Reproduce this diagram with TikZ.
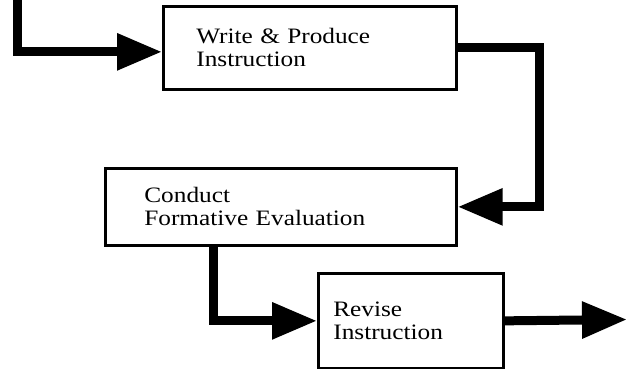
\documentclass[tikz,border=0pt]{standalone}
\usepackage{fontspec}
\setmainfont{Liberation Serif}[FakeStretch=1.15]
\usetikzlibrary{arrows.meta}
\begin{document}
\begin{tikzpicture}[x=1pt,y=-1pt,
  box/.style={draw,line width=2.7pt,anchor=north west,align=left,
    font=\fontsize{22}{23}\selectfont,inner ysep=0pt},
  flow/.style={line width=9pt,-{Triangle[length=45pt,width=35pt]}}]
\useasboundingbox (0,0) rectangle (627,369);
\node[box,minimum width=293pt,minimum height=83pt,text width=227pt,inner xsep=33pt] (b1) at (162,5) {Write \& Produce\\Instruction};
\node[box,minimum width=351pt,minimum height=77pt,text width=273pt,inner xsep=39pt] (b2) at (104,167) {Conduct\\Formative Evaluation};
\node[box,minimum width=185pt,minimum height=95pt,text width=155pt,inner xsep=15pt] (b3) at (317,272) {Revise\\Instruction};
\coordinate (start) at (17,0);
\coordinate (finish) at (627,319.5);
\draw[flow] (start) |- ([yshift=-4pt]b1.west);
\draw[flow] (b1.east) -- ++(82,0) |- (b2.east);
\draw[flow] ([xshift=109pt]b2.south west) |- (b3.west);
\draw[flow] (b3.east) -- (finish);
\end{tikzpicture}
\end{document}
